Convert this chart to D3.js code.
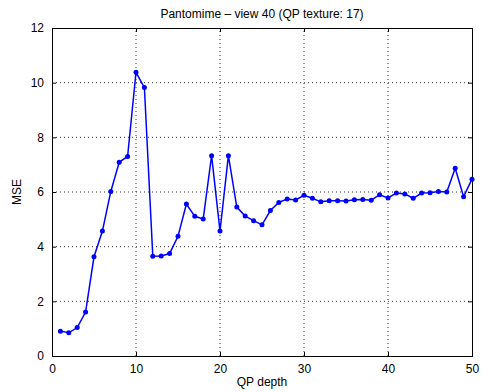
<!DOCTYPE html>
<html>
<head>
<meta charset="utf-8">
<script src="https://cdn.jsdelivr.net/npm/d3@7"></script>
<style>
  body { margin: 0; background: #fff; }
  svg { display: block; font-family: "Liberation Sans", Arial, sans-serif; }
  .grid line { stroke: #000; stroke-dasharray: 1 3; stroke-width: 0.8; }
</style>
</head>
<body>
<div id="chart"></div>
<script>
const qp = d3.range(1, 51);
const mse = [0.91, 0.85, 1.04, 1.61, 3.63, 4.57, 6.02, 7.09, 7.3, 10.38,
             9.82, 3.65, 3.66, 3.75, 4.38, 5.56, 5.11, 5.01, 7.33, 4.57,
             7.33, 5.45, 5.12, 4.95, 4.8, 5.32, 5.62, 5.74, 5.71, 5.88,
             5.77, 5.64, 5.68, 5.68, 5.67, 5.72, 5.73, 5.7, 5.9, 5.78,
             5.96, 5.93, 5.77, 5.96, 5.97, 6.02, 6.0, 6.87, 5.83, 6.47];
const xTicks = [0, 10, 20, 30, 40, 50];
const yTicks = [0, 2, 4, 6, 8, 10, 12];

let width = 488, height = 392,
    margin = ({ top: 28, right: 16, bottom: 36, left: 52 });

const svg = d3.select("#chart").append("svg")
    .attr("width", width).attr("height", height);

let x = d3.scaleLinear().domain([0, 50]).range([margin.left, width - margin.right]);
let y = d3.scaleLinear().domain([0, 12]).range([height - margin.bottom, margin.top]);

// dotted grid
svg.append("g").attr("class", "grid")
    .selectAll("line.v").data(xTicks.slice(1, -1)).join("line")
    .attr("x1", d => x(d)).attr("x2", d => x(d))
    .attr("y1", y(0)).attr("y2", y(12));
svg.append("g").attr("class", "grid")
    .selectAll("line.h").data(yTicks.slice(1, -1)).join("line")
    .attr("y1", d => y(d)).attr("y2", d => y(d))
    .attr("x1", x(0)).attr("x2", x(50));

// axes with inward ticks
const tick = 4;
svg.append("g").attr("transform", `translate(0,${y(0)})`)
    .call(d3.axisBottom(x).tickValues(xTicks).tickSize(-tick).tickPadding(8));
svg.append("g").attr("transform", `translate(0,${y(12)})`)
    .call(d3.axisTop(x).tickValues(xTicks).tickSize(-tick).tickFormat(""));
svg.append("g").attr("transform", `translate(${x(0)},0)`)
    .call(d3.axisLeft(y).tickValues(yTicks).tickSize(-tick).tickPadding(8));
svg.append("g").attr("transform", `translate(${x(50)},0)`)
    .call(d3.axisRight(y).tickValues(yTicks).tickSize(-tick).tickFormat(""));

svg.selectAll(".domain").attr("stroke", "#000").attr("stroke-width", 1);
svg.selectAll(".tick line").attr("stroke", "#000");
svg.selectAll(".tick text").attr("font-size", 12).attr("fill", "#000")
    .attr("font-family", "Liberation Sans, Arial, sans-serif");

// line + markers
const pts = qp.map((q, i) => [q, mse[i]]);
svg.append("path").datum(pts)
    .attr("fill", "none").attr("stroke", "#0000ff").attr("stroke-width", 1.5)
    .attr("d", d3.line().x(d => x(d[0])).y(d => y(d[1])));
svg.append("g").attr("fill", "#0000ff")
    .selectAll("circle").data(pts).join("circle")
    .attr("cx", d => x(d[0])).attr("cy", d => y(d[1])).attr("r", 2.5);

// labels
svg.append("text").attr("x", (x(0) + x(50)) / 2).attr("y", 18)
    .attr("text-anchor", "middle").attr("font-size", 12)
    .text("Pantomime \u2013 view 40 (QP texture: 17)");
svg.append("text").attr("x", (x(0) + x(50)) / 2).attr("y", 386)
    .attr("text-anchor", "middle").attr("font-size", 12)
    .text("QP depth");
svg.append("text").attr("transform", `translate(21,${(y(0) + y(12)) / 2}) rotate(-90)`)
    .attr("text-anchor", "middle").attr("font-size", 12)
    .text("MSE");
</script>
</body>
</html>
